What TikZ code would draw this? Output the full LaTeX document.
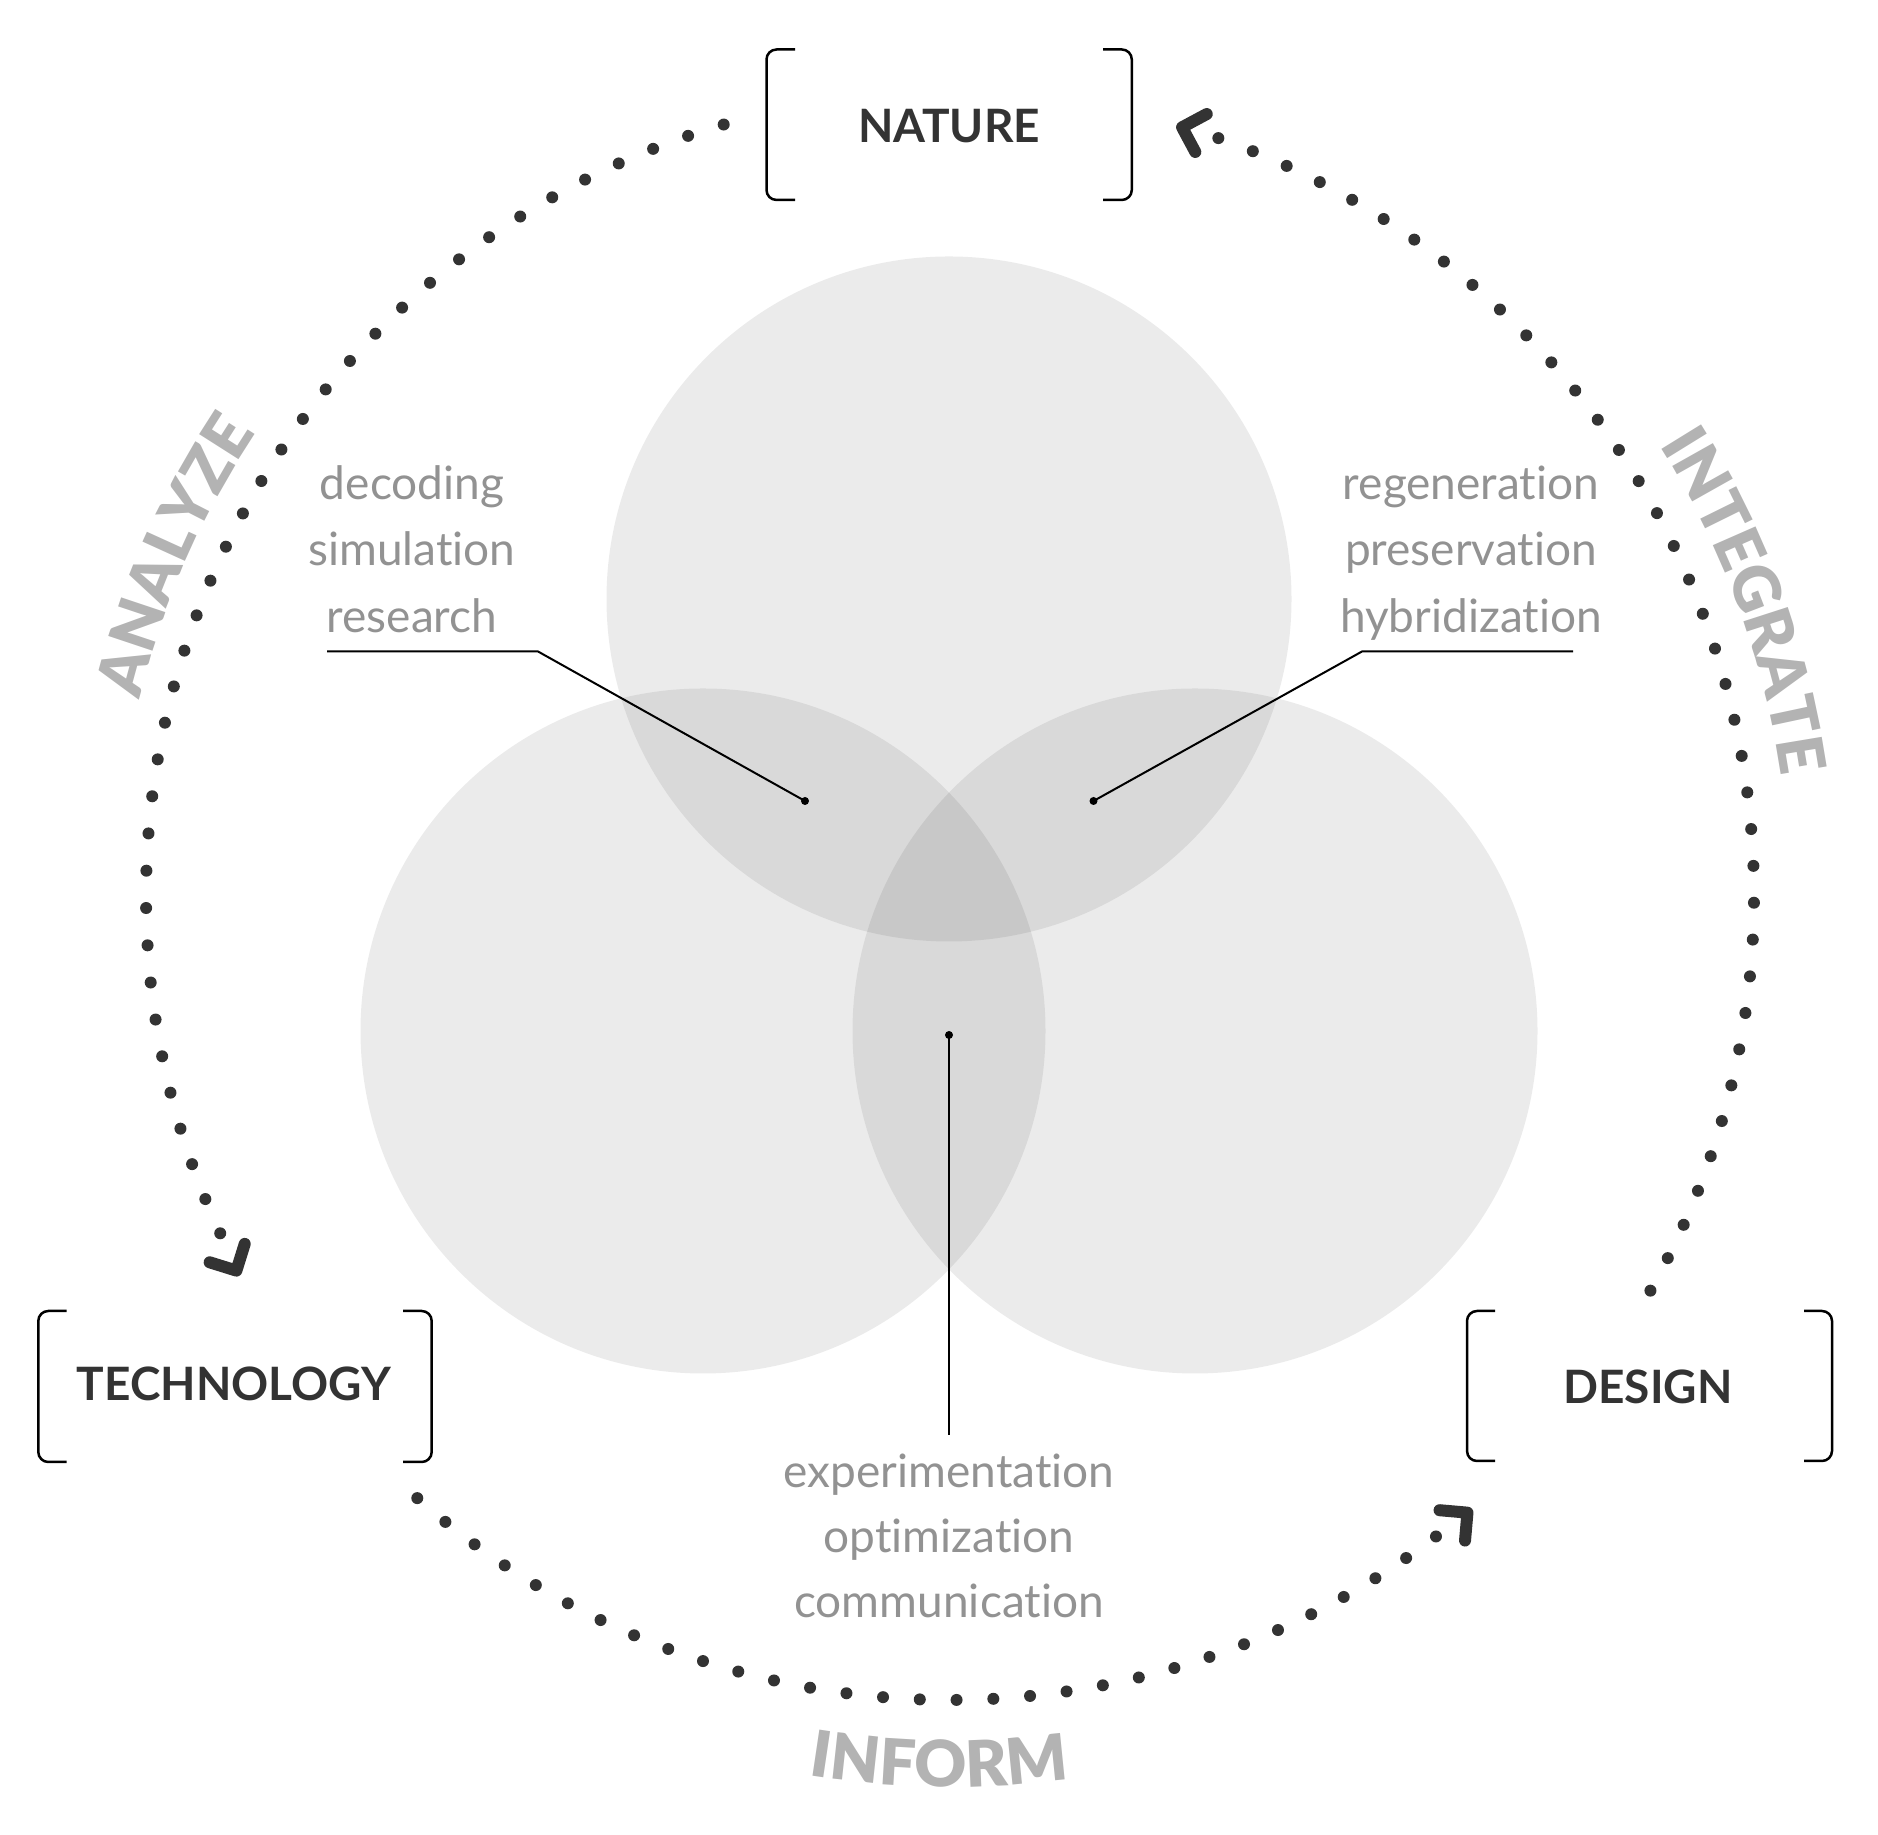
\documentclass[tikz,border=0pt]{standalone}
\usepackage{fontspec}
\setmainfont{Lato}[Ligatures=NoCommon]
\usetikzlibrary{decorations.text,calc}
\definecolor{dk}{HTML}{333333}
\definecolor{txtgray}{HTML}{929292}
\definecolor{lblgray}{HTML}{B3B3B3}
\newfontfamily\arcfont{Lato Black}
\begin{document}
\begin{tikzpicture}[x=1pt,y=1pt,
  venn/.style={fill=black,fill opacity=0.08},
  bdot/.style={fill=dk},
  chev/.style={draw=dk,line width=12pt,line cap=round,line join=round},
  brk/.style={draw=black,line width=2.5pt,rounded corners=10pt},
  lead/.style={draw=black,line width=2pt},
  keylbl/.style={font=\bfseries\fontsize{46}{46}\selectfont,text=dk,inner sep=0pt},
  note/.style={font=\fontsize{46}{46}\selectfont,text=txtgray,anchor=base,inner sep=0pt},
  arclbl/.style={decorate,decoration={text along path,text align=center,text color=lblgray,text={|\arcfont\fontsize{64}{64}\selectfont|#1}}}
]
\useasboundingbox (0,0) rectangle (1878,1835);
\coordinate (C) at (950,939);

% Venn circles
\fill[venn] (949,1236) circle[radius=342.5];
\fill[venn] (703,804) circle[radius=342.5];
\fill[venn] (1195,804) circle[radius=342.5];

% dotted arcs
\foreach \i in {0,...,37} \fill[bdot] ($(C)+({106.35+\i*2.661}:804)$) circle[radius=6];
\foreach \i in {0,...,30} \fill[bdot] ($(C)+({228.5+\i*2.623}:804)$) circle[radius=6];
\foreach \i in {0,...,38} \fill[bdot] ($(C)+({-29.4+\i*2.629}:804)$) circle[radius=6];

% arrowheads
\coordinate (aA) at ($(C)+(207.7:806)$);
\draw[chev] ($(aA)+(162.7:28)$) -- (aA) -- ($(aA)+(72.7:28)$);
\coordinate (aI) at ($(C)+(310:805)$);
\draw[chev] ($(aI)+(175:28)$) -- (aI) -- ($(aI)+(265:28)$);
\coordinate (aN) at ($(C)+(73.2:803)$);
\draw[chev] ($(aN)+(28.2:28)$) -- (aN) -- ($(aN)+(-61.8:28)$);

% curved labels
\path[arclbl=ANALYZE] ($(C)+(186.3:834)$) arc[start angle=186.3,end angle=126.3,radius=834];
\path[arclbl=INTEGRATE] ($(C)+(50.3:840)$) arc[start angle=50.3,end angle=-9.7,radius=840];
\path[arclbl=INFORM] ($(C)+(239.3:891)$) arc[start angle=239.3,end angle=299.3,radius=891];

% brackets
\draw[brk] (795,1785.5) -- (766.5,1785.5) -- (766.5,1635) -- (795,1635);
\draw[brk] (1103,1785.5) -- (1131.8,1785.5) -- (1131.8,1635) -- (1103,1635);
\draw[brk] (66.7,524) -- (38.3,524) -- (38.3,373) -- (66.7,373);
\draw[brk] (403,524) -- (431.7,524) -- (431.7,373) -- (403,373);
\draw[brk] (1495,524) -- (1467,524) -- (1467,374) -- (1495,374);
\draw[brk] (1804,524) -- (1832,524) -- (1832,374) -- (1804,374);

% key labels
\node[keylbl] (nature) at (949,1709) {NATURE};
\node[keylbl] (tech) at (234,451) {TECHNOLOGY};
\node[keylbl] (design) at (1648,448) {DESIGN};

% notes
\node[note] (n1) at (412,1335) {decoding};
\node[note] (n2) at (412,1269) {simulation};
\node[note] (n3) at (412,1202) {research};
\node[note] (n4) at (1471,1335) {regeneration};
\node[note] (n5) at (1471,1269) {preservation};
\node[note] (n6) at (1471,1202) {hybridization};
\node[note] (n7) at (949,347) {experimentation};
\node[note] (n8) at (949,282) {optimization};
\node[note] (n9) at (949,217) {communication};

% leaders
\coordinate (dL) at (805,1034);
\coordinate (bL) at (538,1183.5);
\coordinate (eL) at (327,1183.5);
\draw[lead] (eL) -- (bL) -- (dL);
\fill (dL) circle[radius=4];
\coordinate (dR) at (1093.5,1034);
\coordinate (bR) at (1362,1183.5);
\coordinate (eR) at (1573,1183.5);
\draw[lead] (eR) -- (bR) -- (dR);
\fill (dR) circle[radius=4];
\coordinate (dB) at (949,800);
\coordinate (eB) at (949,400);
\draw[lead] (dB) -- (eB);
\fill (dB) circle[radius=4];
\end{tikzpicture}
\end{document}
